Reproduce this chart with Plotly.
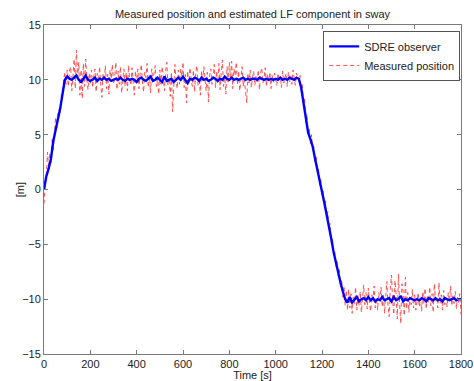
import plotly.graph_objects as go

# ---- data ----
t_meas = list(range(0, 1801, 5))
measured = [
    -1.3, 0.6, 1.0, 3.4, 2.0, 3.3, 2.4, 4.6, 3.6, 5.0, 6.6, 5.6, 6.9, 7.3, 6.9, 8.7, 9.1, 10.0, 10.7, 9.6, 10.9,
    9.4, 10.8, 11.2, 9.0, 10.3, 11.9, 9.2, 12.7, 10.2, 11.6,
    8.6, 10.9, 8.3, 11.5, 9.4, 11.9, 10.0, 9.1, 10.6, 9.7,
    10.9, 9.3, 10.4, 11.0, 8.9, 10.6, 9.8, 11.2, 9.5, 8.4,
    10.6, 9.9, 11.3, 9.2, 10.5, 8.7, 10.9, 10.1, 11.4, 9.6,
    10.2, 11.6, 9.1, 10.8, 9.6, 11.2, 8.8, 10.4, 11.0, 9.4,
    10.7, 9.0, 11.3, 10.1, 9.5, 11.1, 10.0, 8.6, 10.8, 9.7,
    11.0, 9.2, 10.5, 11.4, 9.8, 8.9, 10.7, 10.2, 11.5, 9.3,
    10.4, 8.8, 11.0, 9.9, 10.6, 11.3, 9.4, 10.1, 8.7, 10.9,
    9.6, 11.2, 10.3, 9.0, 10.8, 11.6, 9.5, 10.2, 8.5, 10.7,
    7.1, 9.8, 11.4, 10.0, 9.2, 10.9, 9.6, 11.0, 10.3, 11.6,
    9.3, 10.5, 7.9, 10.8, 9.7, 11.1, 10.0, 9.4, 10.9, 8.9,
    10.6, 11.3, 9.5, 10.2, 8.6, 10.8, 9.9, 11.2, 10.1, 9.0,
    10.7, 8.0, 10.4, 11.0, 9.6, 10.2, 11.4, 9.3, 10.8, 9.7,
    11.5, 9.1, 10.6, 11.8, 9.4, 10.3, 8.7, 11.2, 9.8, 11.6,
    10.0, 11.7, 9.2, 11.0, 10.4, 11.6, 9.6, 10.8, 9.0, 10.5,
    11.2, 9.4, 10.1, 8.9, 7.9, 10.6, 9.7, 10.9, 9.3, 10.2,
    10.8, 9.5, 10.3, 9.8, 10.9, 9.1, 10.6, 11.1, 9.7, 10.2,
    11.1, 9.4, 10.5, 9.9, 10.7, 9.2, 10.4, 9.8, 10.6, 10.0,
    9.5, 10.6, 9.9, 10.3, 9.3, 10.8, 9.7, 10.2, 10.6, 9.4,
    10.7, 9.8, 10.4, 9.6, 10.9, 10.1, 9.5, 10.6, 10.3, 9.9,
    10.4, 9.1, 9.6, 7.8, 8.4, 6.1, 6.9, 4.9, 5.6, 4.2, 5.0, 3.5, 3.9, 2.4, 3.1, 1.5, 1.9, 0.4, 0.9, -0.5, -0.1,
    -1.5, -1.0, -2.6, -2.0, -3.5, -3.1, -4.8, -4.4, -6.0, -5.6, -7.0, -6.5, -7.9, -7.3, -8.9, -8.2, -9.8, -8.8,
    -10.6, -9.2, -11.0,
    -9.1, -10.8, -9.5, -11.3, -9.8, -10.4, -8.9, -11.0, -9.7, -10.6,
    -9.3, -11.2, -9.9, -8.7, -10.5, -9.4, -10.9, -9.0, -10.3, -11.1,
    -9.6, -10.2, -8.8, -10.8, -9.9, -11.0, -9.4, -10.1, -8.9, -10.7,
    -9.5, -11.3, -9.8, -8.4, -10.6, -11.6, -9.0, -7.8, -10.2, -11.4,
    -8.3, -9.6, -11.8, -7.7, -10.4, -12.2, -8.6, -9.3, -11.5, -8.0,
    -10.9, -9.4, -11.2, -9.8, -10.5, -9.1, -10.8, -9.6, -11.0, -10.2,
    -9.4, -10.7, -9.9, -11.1, -9.3, -10.4, -9.0, -10.9, -9.7, -10.3,
    -8.9, -10.6, -9.5, -11.2, -8.6, -10.1, -9.8, -10.8, -8.5, -10.4,
    -9.6, -11.0, -9.2, -10.5, -9.9, -10.7, -9.4, -10.2, -8.8, -10.6,
    -9.7, -10.4, -9.3, -10.9, -9.8, -10.3, -9.5, -11.4,
]

t_est = list(range(0, 1801, 10))
sdre = [
    0.0, 1.2, 1.9, 2.8, 4.4, 5.4, 6.3, 7.4, 8.7, 10.0, 10.3,
    10.1, 10.0, 10.2, 10.4, 10.0, 9.8, 10.1, 10.4, 10.0, 9.9,
    10.0, 10.2, 9.9, 10.1, 10.0, 10.2, 10.0, 10.1, 9.9, 10.0,
    10.1, 10.0, 10.2, 10.0, 9.9, 10.1, 10.0, 10.1, 10.0, 9.8,
    10.1, 10.2, 10.0, 9.9, 10.1, 10.3, 9.9, 10.0, 10.2, 10.0,
    9.8, 10.3, 9.9, 10.0, 10.1, 9.8, 10.0, 10.2, 10.0, 10.3,
    10.0, 9.7, 10.1, 10.0, 10.2, 10.1, 9.9, 10.2, 10.0, 10.1,
    9.9, 10.0, 10.2, 10.1, 9.9, 10.1, 10.0, 10.3, 10.1, 10.0,
    10.2, 10.0, 10.1, 10.0, 10.1, 10.2, 10.0, 10.1, 10.0, 10.1,
    10.1, 10.0, 10.2, 10.1, 10.0, 10.1, 10.0, 10.1, 10.0, 10.1,
    10.0, 10.2, 10.0, 10.1, 10.0, 10.2, 10.1, 10.0, 10.2, 10.1,
    9.3, 8.0, 6.3, 5.2, 4.6, 3.9, 2.8, 1.7, 0.7, -0.2,
    -1.2, -2.2, -3.2, -4.5, -5.7, -6.7, -7.6, -8.5, -9.3, -10.0,
    -10.3, -9.8, -10.3, -10.0, -9.8, -10.2, -10.0, -9.9, -10.1, -9.8,
    -10.1, -9.9, -10.2, -10.0, -10.1, -9.8, -10.1, -10.0, -9.9, -10.2,
    -9.8, -10.1, -10.0, -9.7, -10.2, -10.0, -10.1, -9.9, -10.0, -10.1,
    -10.0, -10.1, -9.9, -10.0, -10.2, -9.9, -10.0, -10.1, -9.9, -10.1,
    -10.0, -10.2, -9.9, -10.0, -10.1, -10.0, -9.9, -10.1, -10.0, -10.0,
]

x_ticks = [0, 200, 400, 600, 800, 1000, 1200, 1400, 1600, 1800]
y_ticks = [-15, -10, -5, 0, 5, 10, 15]

FONT = "Liberation Sans, Arial, Helvetica, sans-serif"
AX = "#7a7a7a"

fig = go.Figure()
fig.add_trace(go.Scatter(
    x=t_meas, y=measured, mode="lines", name="Measured position",
    line=dict(color="rgb(255,60,60)", width=0.9, dash="4px,3px"),
))
fig.add_trace(go.Scatter(
    x=t_est, y=sdre, mode="lines", name="SDRE observer",
    line=dict(color="rgb(0,0,255)", width=2.4),
))

axis_common = dict(
    showgrid=False, zeroline=False, showline=True, mirror="ticks",
    linecolor=AX, linewidth=1, ticks="inside", ticklen=4, tickcolor=AX,
    tickfont=dict(family=FONT, size=11, color="#222"), automargin=False,
)
fig.update_xaxes(range=[0, 1800], tickvals=x_ticks,
                 title=dict(text="Time [s]", font=dict(family=FONT, size=11, color="#222"), standoff=0),
                 **axis_common)
fig.update_yaxes(range=[-15, 15], tickvals=y_ticks, **axis_common)

fig.add_annotation(text="[m]", xref="paper", yref="paper", x=-0.058, y=0.5,
                   xanchor="center", yanchor="middle", textangle=-90, showarrow=False,
                   font=dict(family=FONT, size=11, color="#222"))

fig.update_layout(
    width=474, height=381,
    margin=dict(l=44, r=13, t=25, b=27),
    paper_bgcolor="white", plot_bgcolor="white",
    title=dict(text="Measured position and estimated LF component in sway",
               font=dict(family=FONT, size=11, color="#222"),
               x=0.5, xref="paper", xanchor="center", y=0.962, yanchor="middle", automargin=False),
    legend=dict(x=0.998, y=0.982, xanchor="right", yanchor="top",
                bordercolor="#555", borderwidth=1, bgcolor="white",
                traceorder="reversed", font=dict(family=FONT, size=11, color="#222"),
                tracegroupgap=0, itemwidth=30),
    showlegend=True,
)

fig.write_html("out.html")
